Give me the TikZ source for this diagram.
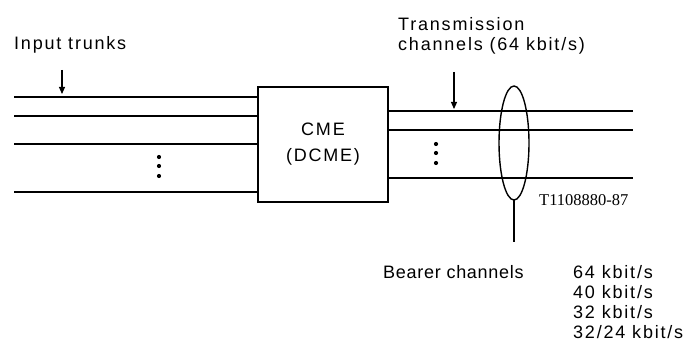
\documentclass[tikz,border=0pt]{standalone}
\usepackage{fontspec}
\setmainfont{Liberation Sans}[LetterSpace=10]
\newfontfamily\tightsans{Liberation Sans}[LetterSpace=4]
\newfontfamily\serifnum{Liberation Serif}
\usetikzlibrary{arrows.meta}
\begin{document}
\begin{tikzpicture}[x=1pt,y=-1pt,
  lbl/.style={inner sep=0pt,font=\fontsize{18}{20}\selectfont},
  line/.style={line width=1.8pt},
  arr/.style={line width=1.1pt,-{Triangle[length=7pt,width=6pt]}},
  vdots/.style={circle,fill=black,inner sep=0pt,minimum size=4.2pt}]
\useasboundingbox (0,0) rectangle (690,342);
% box
\node[draw,line width=1.8pt,minimum width=130pt,minimum height=115pt,lbl,align=center] (cme) at (323,144.5) {CME\\[6pt](DCME)};
% left input trunk lines
\foreach \y/\n in {97/a,116/b,144/c,192/d} {
  \coordinate (in\n) at (14,\y);
  \draw[line] (in\n) -- (in\n -| cme.west);
}
% right transmission lines
\foreach \y/\n in {111/a,130/b,178/c} {
  \coordinate (out\n) at (633,\y);
  \draw[line] (out\n -| cme.east) -- (out\n);
}
% dots
\foreach \y [count=\i] in {157,166,176} \node[vdots] (ld\i) at (159,\y) {};
\foreach \y [count=\i] in {144,153,163} \node[vdots] (rd\i) at (436,\y) {};
% ellipse
\draw[line width=1.4pt] (514,143) ellipse [x radius=15, y radius=57];
\coordinate (ebot) at (514,200);
\coordinate (lineend) at (514,242);
\draw[line width=1.2pt] (ebot) -- (lineend);
% labels
\node[lbl,anchor=west] (input) at (14,45) {Input trunks};
\coordinate (ia) at (62,70);
\coordinate (ib) at (62,94);
\draw[arr] (ia) -- (ib);
\node[lbl,anchor=north west,align=left] (trans) at (398,17) {Transmission\\channels (64 kbit/s)};
\coordinate (ta) at (454,72);
\coordinate (tb) at (454,109);
\draw[arr] (ta) -- (tb);
\node[inner sep=0pt,anchor=west,font=\serifnum\fontsize{16.5}{18}\selectfont] (tag) at (539,200) {T1108880-87};
\node[lbl,anchor=west,font=\tightsans\fontsize{18}{20}\selectfont] (bearer) at (383,272) {Bearer channels};
\node[lbl,anchor=north west,align=left] (rates) at (573,265) {64 kbit/s\\40 kbit/s\\32 kbit/s\\32/24 kbit/s};
\end{tikzpicture}
\end{document}
